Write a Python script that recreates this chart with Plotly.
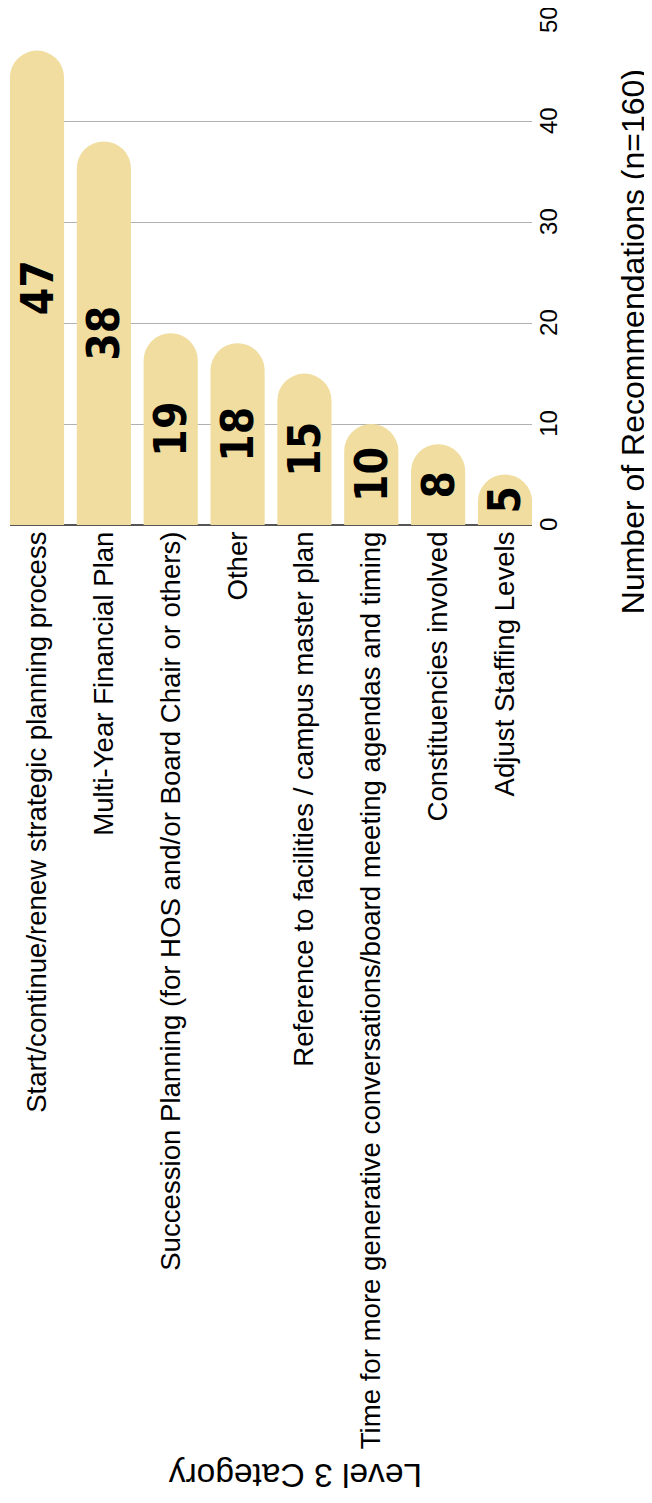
import plotly.graph_objects as go

categories = [
    "Start/continue/renew strategic planning process",
    "Multi-Year Financial Plan",
    "Succession Planning (for HOS and/or Board Chair or others)",
    "Other",
    "Reference to facilities / campus master plan",
    "Time for more generative conversations/board meeting agendas and timing",
    "Constituencies involved",
    "Adjust Staffing Levels",
]
values = [47, 38, 19, 18, 15, 10, 8, 5]
tick_vals = [0, 10, 20, 30, 40, 50]
value_title = "Number of Recommendations (n=160)"
category_title = "Level 3 Category"

BAR_COLOR = "#F0DD9F"
FONT = "Liberation Sans, Arial, sans-serif"

fig = go.Figure(
    go.Bar(
        x=categories,
        y=values,
        marker=dict(color=BAR_COLOR, line=dict(width=0)),
        text=[str(v) for v in values],
        textposition="inside",
        insidetextanchor="middle",
        textangle=-90,
        textfont=dict(family="DejaVu Sans Condensed, DejaVu Sans", size=44,
                      color="black", weight="bold"),
        hoverinfo="skip",
    )
)

# page body has an 8px default margin, so the figure is 8px smaller and
# shifted accordingly
fig.update_layout(
    width=644,
    height=1495,
    margin=dict(l=2, r=120, t=12, b=978),
    plot_bgcolor="white",
    paper_bgcolor="white",
    bargap=0.19,
    barcornerradius="50%",
    showlegend=False,
    font=dict(family=FONT, color="black"),
    uniformtext=dict(minsize=44, mode="show"),
    xaxis=dict(
        type="category",
        range=[-0.404, len(categories) - 1 + 0.404],
        tickangle=-90,
        tickfont=dict(family=FONT, size=27.6, color="black"),
        showgrid=False,
        showline=False,
        ticks="",
        ticklen=0,
        automargin=False,
    ),
    yaxis=dict(
        range=[0, 50.03],
        tickvals=tick_vals,
        side="right",
        tickangle=-90,
        tickfont=dict(family=FONT, size=24, color="black"),
        ticklabeloverflow="allow",
        ticklabelshift=3,
        showgrid=True,
        gridcolor="#B0B0B0",
        gridwidth=1,
        zeroline=True,
        zerolinecolor="#555555",
        zerolinewidth=2,
        showline=False,
        ticks="",
        automargin=False,
    ),
    annotations=[
        dict(
            text=value_title,
            xref="paper", yref="paper",
            x=1, y=0.362,
            xanchor="center", yanchor="middle",
            xshift=101,
            textangle=-90,
            showarrow=False,
            font=dict(family=FONT, size=32, color="black"),
        ),
        dict(
            text=category_title,
            xref="paper", yref="paper",
            x=0.546, y=0,
            xanchor="center", yanchor="middle",
            yshift=-951,
            textangle=180,
            showarrow=False,
            font=dict(family=FONT, size=33.5, color="black"),
        ),
    ],
)

fig.write_html("out.html")
